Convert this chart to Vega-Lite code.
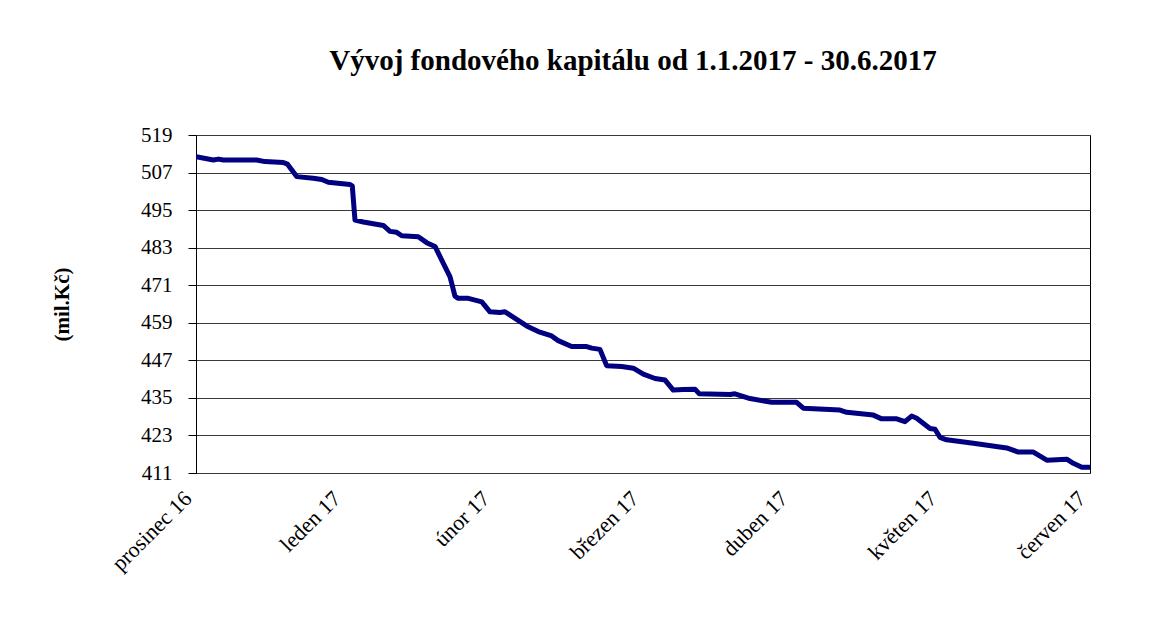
{
  "$schema": "https://vega.github.io/schema/vega-lite/v6.json",
  "autosize": "none",
  "width": 894,
  "height": 338,
  "padding": {"left": 196, "top": 135, "right": 71, "bottom": 148},
  "background": "white",
  "title": {
    "text": "Vývoj fondového kapitálu od 1.1.2017 - 30.6.2017",
    "font": "Liberation Serif",
    "fontSize": 29,
    "fontWeight": "bold",
    "color": "black",
    "anchor": "middle",
    "offset": 48,
    "dx": -10
  },
  "config": {
    "view": {"stroke": "black", "strokeWidth": 1},
    "font": "Liberation Serif"
  },
  "data": {
    "values": [
      {"t": 0.0, "v": 512.1},
      {"t": 0.116, "v": 511.0},
      {"t": 0.15, "v": 511.3},
      {"t": 0.183, "v": 511.0},
      {"t": 0.407, "v": 511.0},
      {"t": 0.463, "v": 510.5},
      {"t": 0.586, "v": 510.2},
      {"t": 0.613, "v": 509.7},
      {"t": 0.676, "v": 505.7},
      {"t": 0.787, "v": 505.2},
      {"t": 0.844, "v": 504.8},
      {"t": 0.888, "v": 503.9},
      {"t": 1.034, "v": 503.2},
      {"t": 1.049, "v": 502.7},
      {"t": 1.067, "v": 491.8},
      {"t": 1.123, "v": 491.2},
      {"t": 1.257, "v": 490.1},
      {"t": 1.302, "v": 488.2},
      {"t": 1.347, "v": 487.9},
      {"t": 1.381, "v": 486.8},
      {"t": 1.492, "v": 486.5},
      {"t": 1.548, "v": 484.6},
      {"t": 1.604, "v": 483.4},
      {"t": 1.66, "v": 478.0},
      {"t": 1.705, "v": 473.7},
      {"t": 1.738, "v": 467.5},
      {"t": 1.76, "v": 466.8},
      {"t": 1.828, "v": 466.8},
      {"t": 1.918, "v": 465.7},
      {"t": 1.973, "v": 462.5},
      {"t": 2.04, "v": 462.3},
      {"t": 2.074, "v": 462.5},
      {"t": 2.219, "v": 458.0},
      {"t": 2.297, "v": 456.2},
      {"t": 2.387, "v": 454.8},
      {"t": 2.431, "v": 453.3},
      {"t": 2.521, "v": 451.4},
      {"t": 2.622, "v": 451.4},
      {"t": 2.656, "v": 450.9},
      {"t": 2.711, "v": 450.5},
      {"t": 2.756, "v": 445.3},
      {"t": 2.857, "v": 445.0},
      {"t": 2.935, "v": 444.5},
      {"t": 3.002, "v": 442.6},
      {"t": 3.081, "v": 441.2},
      {"t": 3.148, "v": 440.7},
      {"t": 3.203, "v": 437.5},
      {"t": 3.27, "v": 437.7},
      {"t": 3.349, "v": 437.8},
      {"t": 3.378, "v": 436.3},
      {"t": 3.584, "v": 436.1},
      {"t": 3.617, "v": 436.3},
      {"t": 3.718, "v": 434.8},
      {"t": 3.864, "v": 433.6},
      {"t": 4.031, "v": 433.6},
      {"t": 4.076, "v": 431.7},
      {"t": 4.322, "v": 431.1},
      {"t": 4.367, "v": 430.4},
      {"t": 4.546, "v": 429.5},
      {"t": 4.602, "v": 428.3},
      {"t": 4.703, "v": 428.3},
      {"t": 4.758, "v": 427.4},
      {"t": 4.803, "v": 429.2},
      {"t": 4.837, "v": 428.5},
      {"t": 4.926, "v": 425.2},
      {"t": 4.96, "v": 425.0},
      {"t": 4.993, "v": 422.4},
      {"t": 5.038, "v": 421.6},
      {"t": 5.217, "v": 420.5},
      {"t": 5.441, "v": 419.0},
      {"t": 5.519, "v": 417.7},
      {"t": 5.62, "v": 417.7},
      {"t": 5.71, "v": 415.1},
      {"t": 5.844, "v": 415.4},
      {"t": 5.888, "v": 414.1},
      {"t": 5.945, "v": 412.8},
      {"t": 6.0, "v": 412.8}
    ]
  },
  "mark": {"type": "line", "color": "#000080", "strokeWidth": 5, "strokeJoin": "round", "strokeCap": "butt", "clip": true},
  "encoding": {
    "x": {
      "field": "t",
      "type": "quantitative",
      "scale": {"domain": [0, 6], "nice": false, "zero": false},
      "axis": {
        "title": null,
        "values": [0, 1, 2, 3, 4, 5, 6],
        "labelExpr": "['prosinec 16','leden 17','únor 17','březen 17','duben 17','květen 17','červen 17'][datum.value]",
        "labelFont": "Liberation Serif",
        "labelColor": "black",
        "labelAngle": -45,
        "labelAlign": "right",
        "labelBaseline": "bottom",
        "labelFontSize": 22,
        "labelPadding": 30,
        "labelDx": 5,
        "labelFlush": false,
        "labelOverlap": false,
        "labelBound": false,
        "ticks": false,
        "domain": false,
        "grid": false
      }
    },
    "y": {
      "field": "v",
      "type": "quantitative",
      "scale": {"domain": [411, 519], "nice": false, "zero": false},
      "axis": {
        "title": "(mil.Kč)",
        "titleFont": "Liberation Serif",
        "titleColor": "black",
        "titleFontSize": 21,
        "titleFontWeight": "bold",
        "titlePadding": 68,
        "values": [411, 423, 435, 447, 459, 471, 483, 495, 507, 519],
        "labelFont": "Liberation Serif",
        "labelColor": "black",
        "labelFontSize": 21,
        "labelPadding": 16,
        "labelFlush": false,
        "labelOverlap": false,
        "tickSize": 8,
        "tickColor": "black",
        "domainColor": "black",
        "gridColor": "#3a3a3a",
        "gridWidth": 1,
        "grid": true
      }
    }
  }
}
